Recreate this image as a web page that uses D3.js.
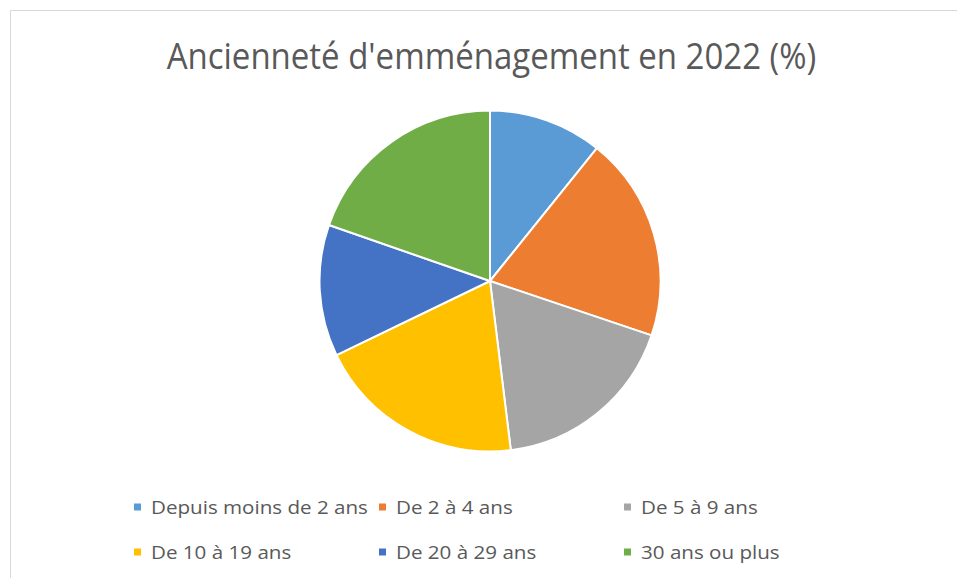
<!DOCTYPE html>
<html>
<head>
<meta charset="utf-8">
<script src="https://cdn.jsdelivr.net/npm/d3@7"></script>
<style>
  html, body { margin: 0; padding: 0; background: #fff; }
  svg { display: block; }
</style>
</head>
<body>
<svg id="chart" width="957" height="578"></svg>
<script>
const title = "Ancienneté d'emménagement en 2022 (%)";
const categories = ["Depuis moins de 2 ans", "De 2 à 4 ans", "De 5 à 9 ans", "De 10 à 19 ans", "De 20 à 29 ans", "30 ans ou plus"];
const values = [10.8, 19.4, 17.9, 19.8, 12.5, 19.7];
const colors = ["#5B9BD5", "#ED7D31", "#A5A5A5", "#FFC000", "#4472C4", "#70AD47"];

const W = 957, H = 578;
const FONT = "'Open Sans', 'Noto Sans', sans-serif";
const svg = d3.select("#chart");

svg.append("rect").attr("x", 0).attr("y", 0).attr("width", W).attr("height", H).attr("fill", "#fff");
svg.append("rect").attr("x", 10.5).attr("y", 10.5).attr("width", 1000).attr("height", 1000)
  .attr("fill", "none").attr("stroke", "#d9d9d9").attr("stroke-width", 1);

// horizontal squeeze so text of a given size reaches a target width
function squeeze(str, size, target) {
  const t = svg.append("text").attr("font-family", FONT).attr("font-size", size).text(str);
  const w = t.node().getComputedTextLength();
  t.remove();
  return target / w;
}

const titleSize = 36;
const titleSx = squeeze(title, titleSize, 650);
svg.append("text")
  .attr("transform", `translate(491.5,69) scale(${titleSx},1)`)
  .attr("text-anchor", "middle")
  .attr("font-family", FONT).attr("font-size", titleSize)
  .attr("fill", "#595959")
  .text(title);

const cx = 490, cy = 281, r = 170.5;
const pie = d3.pie().sort(null).value(d => d);
const arc = d3.arc().innerRadius(0).outerRadius(r);
const g = svg.append("g").attr("transform", `translate(${cx},${cy})`);
g.selectAll("path").data(pie(values)).join("path")
  .attr("d", arc)
  .attr("fill", (d, i) => colors[i])
  .attr("stroke", "#fff").attr("stroke-width", 2).attr("stroke-linejoin", "round");

const legSize = 18.6;
const legSx = squeeze(categories[0], legSize, 217);
const colX = d3.scalePoint().domain([0, 1, 2]).range([134, 624]);
const rowY = d3.scalePoint().domain([0, 1]).range([507, 552]);
const leg = svg.append("g");
categories.forEach((c, i) => {
  const col = i % 3, row = Math.floor(i / 3);
  const x = colX(col), y = rowY(row);
  leg.append("rect").attr("x", x).attr("y", y - 3.5).attr("width", 7).attr("height", 7).attr("fill", colors[i]);
  leg.append("text").attr("transform", `translate(${x + 17},${y + 6.5}) scale(${legSx},1)`)
    .attr("font-family", FONT).attr("font-size", legSize)
    .attr("fill", "#595959").text(c);
});
</script>
</body>
</html>
